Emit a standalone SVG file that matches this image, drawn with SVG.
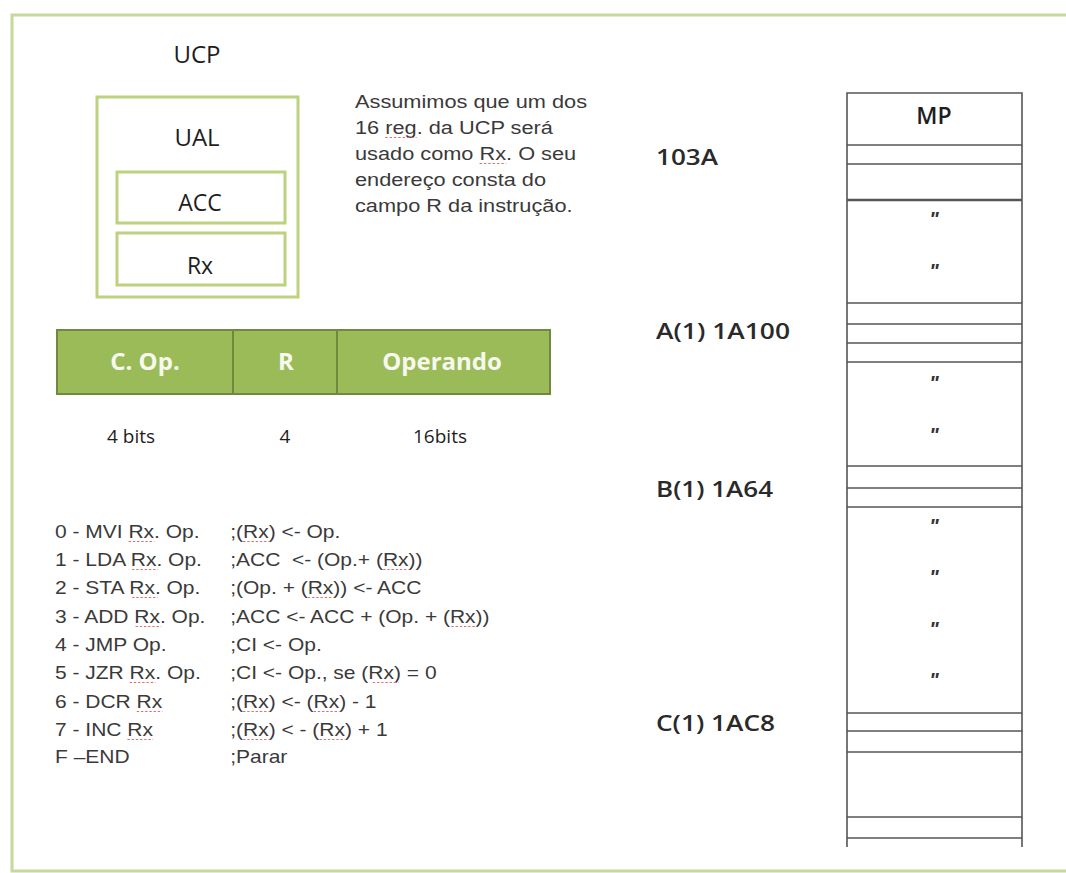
<svg xmlns="http://www.w3.org/2000/svg" width="1066" height="873" viewBox="0 0 1066 873">
<style>
.cal{font-family:"Open Sans","Liberation Sans",sans-serif;fill:#1e1e1e}
.lbl{font-family:"Open Sans","Liberation Sans",sans-serif;fill:#2a2a2a;font-weight:600;font-size:21px}
.ar{font-family:"Liberation Sans",Arial,sans-serif;fill:#3a3a3a;font-size:17.5px}
.bar{font-family:"Open Sans","Liberation Sans",sans-serif;font-weight:bold;fill:#f7f9f0;font-size:24px}
.gbox{fill:none;stroke:#bcd27f;stroke-width:3}
.mem{stroke:#555;stroke-width:1.6;fill:none}
.q{font-family:"Liberation Sans",Arial,sans-serif;font-style:italic;font-weight:bold;font-size:20px;fill:#333}
.sp{stroke:#e07070;stroke-width:1.2;stroke-dasharray:2 1.5;fill:none}
</style>
<rect x="0" y="0" width="1066" height="873" fill="#fff"/>
<rect x="12" y="15" width="1070" height="856" fill="none" stroke="#c6d89e" stroke-width="3"/>

<g id="ucp">
<text class="cal" x="197" y="63" font-size="24" text-anchor="middle">UCP</text>
<rect class="gbox" x="97" y="97" width="201" height="200"/>
<text class="cal" x="197" y="146" font-size="24" text-anchor="middle">UAL</text>
</g>
<g id="acc">
<rect class="gbox" x="117" y="172" width="168" height="51"/>
<text class="cal" x="200" y="211" font-size="23" text-anchor="middle">ACC</text>
</g>
<g id="rx">
<rect class="gbox" x="117" y="233" width="168" height="52"/>
<text class="cal" x="200" y="274" font-size="23" text-anchor="middle">Rx</text>
</g>

<g id="nota" transform="translate(355,0) scale(1.243,1)">
<g class="ar">
<text x="0" y="108">Assumimos que um dos</text>
<text x="0" y="134">16 reg. da UCP será</text>
<text x="0" y="160">usado como Rx. O seu</text>
<text x="0" y="186">endereço consta do</text>
<text x="0" y="212">campo R da instrução.</text>
</g>
<path class="sp" d="M24.3,137.5 h25.3 M100.2,163.5 h21.4"/>
</g>

<g id="formato">
<rect x="57" y="330" width="493" height="64" fill="#9bbb59" stroke="#71893f" stroke-width="2"/>
<line x1="233" y1="330" x2="233" y2="394" stroke="#71893f" stroke-width="2"/>
<line x1="337" y1="330" x2="337" y2="394" stroke="#71893f" stroke-width="2"/>
<text class="bar" x="145" y="370" text-anchor="middle">C. Op.</text>
<text class="bar" x="286" y="370" text-anchor="middle">R</text>
<text class="bar" x="442" y="370" text-anchor="middle">Operando</text>
<text class="cal" x="131" y="443" font-size="19" text-anchor="middle">4 bits</text>
<text class="cal" x="285" y="443" font-size="19" text-anchor="middle">4</text>
<text class="cal" x="440" y="443" font-size="19" text-anchor="middle">16bits</text>
</g>

<g id="instrucoes" transform="translate(55,0) scale(1.2,1)">
<g class="ar">
<text x="0" y="538">0 - MVI Rx. Op.</text><text x="146" y="538">;(Rx) &lt;- Op.</text>
<text x="0" y="566">1 - LDA Rx. Op.</text><text x="146" y="566">;ACC&#160; &lt;- (Op.+ (Rx))</text>
<text x="0" y="594">2 - STA Rx. Op.</text><text x="146" y="594">;(Op. + (Rx)) &lt;- ACC</text>
<text x="0" y="623">3 - ADD Rx. Op.</text><text x="146" y="623">;ACC &lt;- ACC + (Op. + (Rx))</text>
<text x="0" y="651">4 - JMP Op.</text><text x="146" y="651">;CI &lt;- Op.</text>
<text x="0" y="679">5 - JZR Rx. Op.</text><text x="146" y="679">;CI &lt;- Op., se (Rx) = 0</text>
<text x="0" y="708">6 - DCR Rx</text><text x="146" y="708">;(Rx) &lt;- (Rx) - 1</text>
<text x="0" y="736">7 - INC Rx</text><text x="146" y="736">;(Rx) &lt; - (Rx) + 1</text>
<text x="0" y="763">F –END</text><text x="146" y="763">;Parar</text>
</g>
<path class="sp" d="M61.3,541.5 h21.4 M64.2,569.5 h21.4 M64.2,597.5 h21.4 M67.1,626.5 h21.4 M62.2,682.5 h21.4 M68.1,711.5 h21.4 M60.3,739.5 h21.4
M156.7,541.5 h21.4 M273.4,569.5 h21.4 M210.7,597.5 h21.4 M330.3,626.5 h21.4 M264.8,682.5 h21.4 M156.7,711.5 h21.4 M215.5,711.5 h21.4 M156.7,739.5 h21.4 M220.4,739.5 h21.4"/>
</g>

<g id="enderecos" class="lbl">
<text x="656" y="165" textLength="62" lengthAdjust="spacingAndGlyphs">103A</text>
<text x="656" y="339" textLength="134" lengthAdjust="spacingAndGlyphs">A(1) 1A100</text>
<text x="656" y="497" textLength="117" lengthAdjust="spacingAndGlyphs">B(1) 1A64</text>
<text x="656" y="731" textLength="119" lengthAdjust="spacingAndGlyphs">C(1) 1AC8</text>
</g>

<g id="mp">
<path class="mem" d="M847,847 V93 H1022 V847"/>
<path class="mem" d="M847,145 H1022 M847,164 H1022 M847,303 H1022 M847,324 H1022 M847,343 H1022 M847,362 H1022 M847,466 H1022 M847,488 H1022 M847,507 H1022 M847,713 H1022 M847,731 H1022 M847,752 H1022 M847,817 H1022 M847,838 H1022"/>
<line x1="847" y1="200" x2="1022" y2="200" stroke="#555" stroke-width="2.6"/>
<text class="cal" x="934" y="124" font-size="23" font-weight="600" text-anchor="middle">MP</text>
<g class="q" text-anchor="middle">
<text x="934" y="226">"</text><text x="934" y="278">"</text>
<text x="934" y="390">"</text><text x="934" y="442">"</text>
<text x="934" y="533">"</text><text x="934" y="584">"</text>
<text x="934" y="636">"</text><text x="934" y="687">"</text>
</g>
</g>
</svg>
